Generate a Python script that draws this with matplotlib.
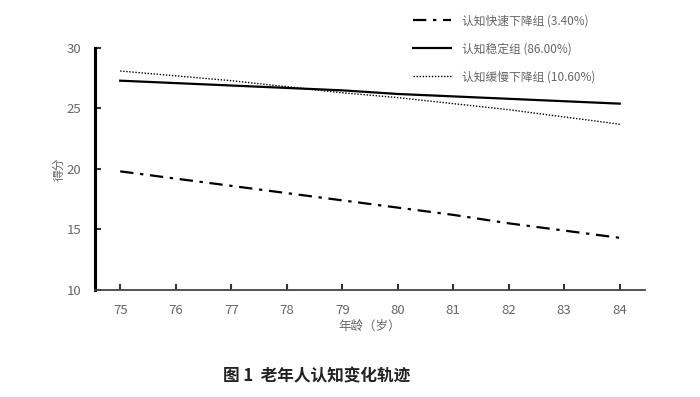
import matplotlib
matplotlib.use("Agg")
import matplotlib.pyplot as plt

plt.rcParams['font.family'] = ['Noto Sans CJK SC', 'DejaVu Sans']

ages = [75, 76, 77, 78, 79, 80, 81, 82, 83, 84]
fast_decline = [19.8, 19.2, 18.6, 18.0, 17.4, 16.8, 16.2, 15.5, 14.9, 14.3]
stable = [27.3, 27.1, 26.9, 26.7, 26.5, 26.2, 26.0, 25.8, 25.6, 25.4]
slow_decline = [28.1, 27.7, 27.3, 26.8, 26.3, 25.9, 25.4, 24.9, 24.3, 23.7]
labels = ["认知快速下降组 (3.40%)", "认知稳定组 (86.00%)", "认知缓慢下降组 (10.60%)"]
yticks = [10, 15, 20, 25, 30]

fig = plt.figure(figsize=(7, 3.97), dpi=100)
ax = fig.add_axes([0.136, 0.27, 0.785, 0.609])

ax.plot(ages, fast_decline, color="black", lw=1.6, linestyle=(0, (6, 3, 1.5, 3)), label=labels[0])
ax.plot(ages, stable, color="black", lw=1.6, linestyle="-", label=labels[1])
ax.plot(ages, slow_decline, color="black", lw=1.0, linestyle=(0, (1, 1.2)), label=labels[2])

ax.set_xlim(74.55, 84.45)
ax.set_ylim(10, 30)
ax.set_xticks(ages)
ax.set_yticks(yticks)
ax.tick_params(direction="in", length=4, width=1.5, colors="#333333",
               labelcolor="#666666", labelsize=9.5, pad=10)
for s in ["top", "right"]:
    ax.spines[s].set_visible(False)
ax.spines["left"].set_linewidth(2.2)
ax.spines["bottom"].set_linewidth(1.3)
ax.spines["bottom"].set_color("#444444")

ax.set_xlabel("年龄（岁）", fontsize=9, color="#666666", labelpad=2)
ax.set_ylabel("得分", fontsize=8.5, color="#666666", labelpad=1)

fig.legend(loc="upper left", bbox_to_anchor=(0.575, 0.99), frameon=False,
           fontsize=8.5, handlelength=3.2, labelspacing=1.25, handletextpad=0.9,
           labelcolor="#666666")

fig.text(0.452, 0.04, "图 1  老年人认知变化轨迹", ha="center", fontsize=12,
         fontweight="bold", color="#222222")

fig.savefig("out.png", dpi=100)
